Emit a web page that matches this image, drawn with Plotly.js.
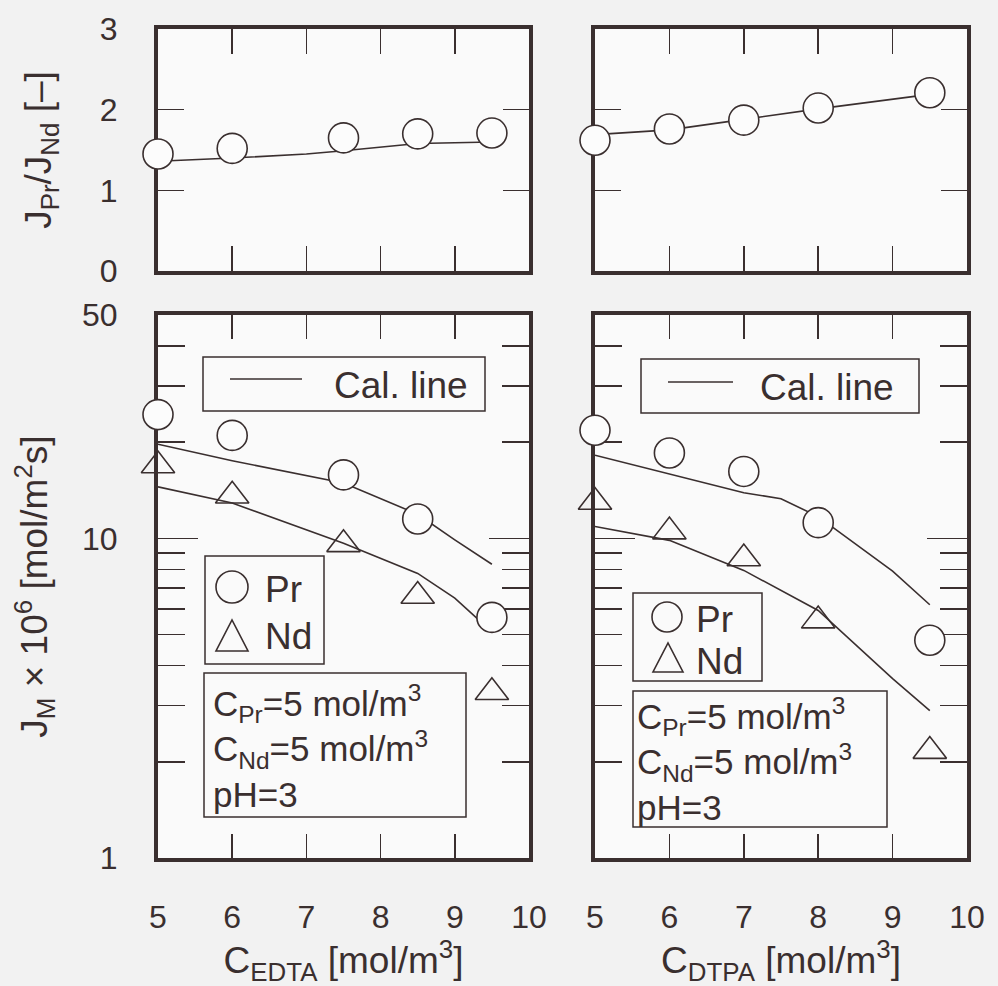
<!DOCTYPE html>
<html>
<head>
<meta charset="utf-8">
<script src="https://cdn.plot.ly/plotly-3.0.1.min.js"></script>
<style>html,body{margin:0;padding:0;background:#f2f2f2;}#chart{width:998px;height:986px;}</style>
</head>
<body>
<div id="chart"></div>
<script>
// ---------- data ----------
const edtaX = [5, 6, 7.5, 8.5, 9.5];
const dtpaX = [5, 6, 7, 8, 9.5];

const ratioEdta = [1.45, 1.52, 1.65, 1.70, 1.71];
const ratioDtpa = [1.62, 1.76, 1.87, 2.02, 2.21];
const ratioCalEdtaX = [5, 6, 7, 7.5, 8.5, 9.5];
const ratioCalEdta = [1.36, 1.40, 1.45, 1.49, 1.58, 1.60];
const ratioCalDtpaX = [5, 6, 7, 8, 9.5];
const ratioCalDtpa = [1.69, 1.75, 1.88, 2.01, 2.19];

const prEdta = [24.4, 21.0, 15.8, 11.5, 5.66];
const ndEdta = [16.9, 13.6, 9.58, 6.6, 3.3];
const calPrEdtaX = [5, 6, 7.5, 8.5, 9, 9.5];
const calPrEdta = [19.7, 17.5, 14.9, 11.9, 9.9, 8.3];
const calNdEdtaX = [5, 6, 7.5, 8.5, 9, 9.5];
const calNdEdta = [14.5, 12.9, 9.65, 7.77, 6.5, 5.1];

const prDtpa = [21.8, 18.5, 16.2, 11.2, 4.8];
const ndDtpa = [13.0, 10.5, 8.65, 5.53, 2.16];
const calPrDtpaX = [5, 6, 7, 7.5, 8, 9, 9.5];
const calPrDtpa = [18.2, 15.9, 13.9, 13.3, 11.7, 7.9, 6.2];
const calNdDtpaX = [5, 6, 7, 8, 9, 9.5];
const calNdDtpa = [10.9, 9.86, 7.94, 5.95, 3.64, 2.89];

const xTickVals = [5, 6, 7, 8, 9, 10];
const xTickText = ['5', '6', '7', '8', '9', '10'];
const ratioTickVals = [0, 1, 2, 3];
const ratioTickText = ['0', '1', '2', '3'];
const fluxTickVals = [1, 10, 50];
const fluxTickText = ['1', '10', '50'];
const fluxMinorVals = [2, 3, 4, 5, 6, 7, 8, 9, 20, 30, 40];

const condLines = ['C<sub>Pr</sub>=5 mol/m<sup>3</sup>', 'C<sub>Nd</sub>=5 mol/m<sup>3</sup>', 'pH=3'];

// ---------- style ----------
const INK = '#3a2f2f';
const FONT = 'Liberation Sans, Arial, Helvetica, sans-serif';
const FS = 32;   // tick labels
const FT = 37;   // titles and in-plot texts
const FC = 35;   // condition box text
const W = 998, H = 986;
const px = v => v / W;
const py = v => 1 - v / H;

const lineStyle = {color: INK, width: 1.6};
const circMarker = {symbol: 'circle', size: 30, color: '#fcfcfc', line: {color: INK, width: 1.6}};
const triMarker = {symbol: 'triangle-up', size: 29, color: 'rgba(0,0,0,0)', line: {color: INK, width: 1.6}};

function tr(x, y, xa, ya, mode, extra) {
  return Object.assign({x: x, y: y, xaxis: xa, yaxis: ya, mode: mode, cliponaxis: false,
    showlegend: false, hoverinfo: 'skip', type: 'scatter'}, extra);
}

const data = [
  tr(ratioCalEdtaX, ratioCalEdta, 'x', 'y', 'lines', {line: lineStyle}),
  tr(edtaX, ratioEdta, 'x', 'y', 'markers', {marker: circMarker}),
  tr(ratioCalDtpaX, ratioCalDtpa, 'x2', 'y2', 'lines', {line: lineStyle}),
  tr(dtpaX, ratioDtpa, 'x2', 'y2', 'markers', {marker: circMarker}),

  tr(calPrEdtaX, calPrEdta, 'x3', 'y3', 'lines', {line: lineStyle}),
  tr(calNdEdtaX, calNdEdta, 'x3', 'y3', 'lines', {line: lineStyle}),
  tr(edtaX, prEdta, 'x3', 'y3', 'markers', {marker: circMarker, name: 'Pr'}),
  tr(edtaX, ndEdta, 'x3', 'y3', 'markers', {marker: triMarker, name: 'Nd'}),

  tr(calPrDtpaX, calPrDtpa, 'x4', 'y4', 'lines', {line: lineStyle}),
  tr(calNdDtpaX, calNdDtpa, 'x4', 'y4', 'lines', {line: lineStyle}),
  tr(dtpaX, prDtpa, 'x4', 'y4', 'markers', {marker: circMarker, name: 'Pr'}),
  tr(dtpaX, ndDtpa, 'x4', 'y4', 'markers', {marker: triMarker, name: 'Nd'})
];

const baseAxis = {
  showline: true, linewidth: 4, linecolor: INK, mirror: 'allticks',
  ticks: 'inside', tickcolor: INK, tickwidth: 1.6,
  showgrid: false, zeroline: false, layer: 'below traces', fixedrange: true,
  tickfont: {family: FONT, size: FS, color: INK}
};
function ax(o) { return Object.assign({}, baseAxis, o); }
const titleFont = {family: FONT, size: FT, color: INK};

const domLeft = [px(158), px(529)];
const domRight = [px(595), px(967)];
const domTop = [py(271), py(29)];
const domBot = [py(858), py(315)];

const layout = {
  width: W, height: H,
  margin: {l: 0, r: 0, t: 0, b: 0},
  paper_bgcolor: '#f2f2f2',
  plot_bgcolor: '#fafafa',
  font: {family: FONT, size: FS, color: INK},
  showlegend: false,
  xaxis: ax({domain: domLeft, anchor: 'y', range: [5, 10], tickmode: 'array', tickvals: [6, 7, 8, 9], ticklen: 25, showticklabels: false}),
  yaxis: ax({domain: domTop, anchor: 'x', range: [0, 3], tickmode: 'array', tickvals: ratioTickVals, ticktext: ratioTickText, ticklen: 26, ticklabelstandoff: 30,
    title: {text: 'J<sub>Pr</sub>/J<sub>Nd</sub> [–]', font: titleFont, standoff: 38}}),
  xaxis2: ax({domain: domRight, anchor: 'y2', range: [5, 10], tickmode: 'array', tickvals: [6, 7, 8, 9], ticklen: 25, showticklabels: false}),
  yaxis2: ax({domain: domTop, anchor: 'x2', range: [0, 3], tickmode: 'array', tickvals: ratioTickVals, ticklen: 26, showticklabels: false}),
  xaxis3: ax({domain: domLeft, anchor: 'y3', range: [5, 10], tickmode: 'array', tickvals: xTickVals, ticktext: xTickText, ticklen: 24, ticklabelstandoff: 28,
    title: {text: 'C<sub>EDTA</sub> [mol/m<sup>3</sup>]', font: titleFont, standoff: 3}}),
  yaxis3: ax({domain: domBot, anchor: 'x3', type: 'log', range: [0, Math.log10(50)], tickmode: 'array', tickvals: fluxTickVals, ticktext: fluxTickText, ticklen: 40, ticklabelstandoff: 30,
    minor: {tickmode: 'array', tickvals: fluxMinorVals, ticks: 'inside', ticklen: 27, tickcolor: INK, tickwidth: 1.6, showgrid: false},
    title: {text: 'J<sub>M</sub> × 10<sup>6</sup> [mol/m<sup>2</sup>s]', font: titleFont, standoff: 24}}),
  xaxis4: ax({domain: domRight, anchor: 'y4', range: [5, 10], tickmode: 'array', tickvals: xTickVals, ticktext: xTickText, ticklen: 24, ticklabelstandoff: 28,
    title: {text: 'C<sub>DTPA</sub> [mol/m<sup>3</sup>]', font: titleFont, standoff: 3}}),
  yaxis4: ax({domain: domBot, anchor: 'x4', type: 'log', range: [0, Math.log10(50)], tickmode: 'array', tickvals: fluxTickVals, ticklen: 40, showticklabels: false,
    minor: {tickmode: 'array', tickvals: fluxMinorVals, ticks: 'inside', ticklen: 27, tickcolor: INK, tickwidth: 1.6, showgrid: false}}),
  shapes: [],
  annotations: []
};

function box(x0, y0, x1, y1) {
  layout.shapes.push({type: 'rect', xref: 'paper', yref: 'paper', x0: px(x0), x1: px(x1), y0: py(y1), y1: py(y0),
    line: {color: INK, width: 1.5}, fillcolor: '#fafafa', layer: 'above'});
}
function seg(x0, y0, x1, y1) {
  layout.shapes.push({type: 'line', xref: 'paper', yref: 'paper', x0: px(x0), x1: px(x1), y0: py(y0), y1: py(y1),
    line: {color: INK, width: 1.6}, layer: 'above'});
}
function circ(cx, cy, r) {
  layout.shapes.push({type: 'circle', xref: 'paper', yref: 'paper', x0: px(cx - r), x1: px(cx + r), y0: py(cy + r), y1: py(cy - r),
    line: {color: INK, width: 1.6}, layer: 'above'});
}
function tri(cx, top, base, hw) {
  layout.shapes.push({type: 'path', xref: 'paper', yref: 'paper',
    path: 'M' + px(cx - hw) + ',' + py(base) + ' L' + px(cx + hw) + ',' + py(base) + ' L' + px(cx) + ',' + py(top) + ' Z',
    line: {color: INK, width: 1.6}, layer: 'above'});
}
function txt(t, x, y, size) {
  layout.annotations.push({text: t, xref: 'paper', yref: 'paper', x: px(x), y: py(y), xanchor: 'left', yanchor: 'middle',
    showarrow: false, font: {family: FONT, size: size || FT, color: INK}, align: 'left', borderpad: 0});
}

// bottom-left legends
box(203, 357, 485, 411); seg(230, 379, 302, 379); txt('Cal. line', 333, 385);
box(205, 556, 324, 664); circ(232, 587, 16); txt('Pr', 264, 589); tri(232, 620, 651, 16); txt('Nd', 264, 636);
box(204, 673, 466, 817);
txt(condLines.join('<br>'), 212, 746, FC);

// bottom-right legends
box(641, 359, 919, 413); seg(668, 382, 733, 382); txt('Cal. line', 759, 387);
box(633, 593, 762, 681); circ(667, 617, 15); txt('Pr', 695, 619); tri(668, 643, 672, 15); txt('Nd', 695, 661);
box(633, 691, 887, 827);
txt(condLines.join('<br>'), 636, 759, FC);

Plotly.newPlot('chart', data, layout, {staticPlot: true, displayModeBar: false});
</script>
</body>
</html>
